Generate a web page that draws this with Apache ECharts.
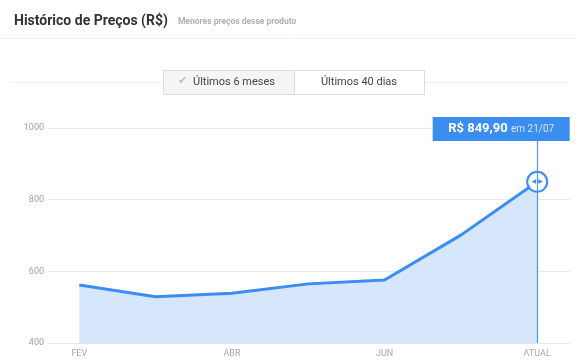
<!DOCTYPE html>
<html lang="pt-BR">

<head>
  <meta charset="utf-8" />
  <title></title>
  <script src="https://cdn.jsdelivr.net/npm/echarts@6/dist/echarts.min.js"></script>
  <style>
    * {
      margin: 0;
      padding: 0;
    }

    #chart-container {
      position: relative;
      width: 577px;
      height: 363px;
      overflow: hidden;
      background: #fff;
    }
  </style>
</head>

<body>
  <div id="chart-container"></div>

  <script>
    // meses (so FEV, ABR, JUN e ATUAL aparecem no eixo)
    var months = ["FEV", "MAR", "ABR", "MAI", "JUN", "JUL", "ATUAL"];
    var prices = [562, 529, 539, 565, 576, 701, 849.9];
    var shownTicks = [0, 2, 4, 6];
    var lastLabel = "R$ 849,90";
    var lastDate = "21/07";
  </script>

  <script>
    var dom = document.getElementById("chart-container");
    var myChart = echarts.init(dom, null, { renderer: "canvas" });

    var last = prices.length - 1;
    var seriesData = prices.map(function (v, i) {
      if (i === last) {
        return {
          value: [i, v],
          symbol: "circle",
          symbolSize: 20,
          itemStyle: { color: "#fff", borderColor: "#3b8cf5", borderWidth: 2 },
          label: {
            show: true,
            position: "inside",
            formatter: "◀ ▶",
            color: "#3b8cf5",
            fontSize: 6,
            fontFamily: "DejaVu Sans"
          }
        };
      }
      return { value: [i, v], symbol: "none" };
    });

    var option = {
      animation: false,
      title: {
        left: 9,
        top: 7,
        text: "{a|Histórico de Preços (R$)}  {b|Menores preços desse produto}",
        textStyle: {
          rich: {
            a: { fontFamily: "Roboto", fontWeight: "bold", fontSize: 14, color: "#333" },
            b: { fontFamily: "Roboto", fontSize: 8.5, color: "#b0b0b0", verticalAlign: "middle", padding: [2, 0, 0, 0] }
          }
        }
      },
      graphic: [
        { type: "line", shape: { x1: 0, y1: 38.5, x2: 577, y2: 38.5 }, style: { stroke: "#f0f0f0", lineWidth: 1 } },
        { type: "line", shape: { x1: 10, y1: 82.5, x2: 567, y2: 82.5 }, style: { stroke: "#f0f0f0", lineWidth: 1 } },
        { type: "rect", shape: { x: 163.5, y: 70.5, width: 131, height: 24 }, style: { fill: "#f5f5f5", stroke: "#dcdcdc" } },
        { type: "rect", shape: { x: 294.5, y: 70.5, width: 130, height: 24 }, style: { fill: "#fff", stroke: "#dcdcdc" } },
        { type: "text", x: 178, y: 76, style: { text: "✔", fill: "#bdbdbd", font: "11px DejaVu Sans" } },
        { type: "text", x: 193, y: 77, style: { text: "Últimos 6 meses", fill: "#444", font: "11px Roboto" } },
        { type: "text", x: 359, y: 77, style: { text: "Últimos 40 dias", fill: "#444", font: "11px Roboto", align: "center" } }
      ],
      grid: { left: 48, right: 7, top: 128, bottom: 20 },
      xAxis: {
        type: "value",
        min: -0.41,
        max: 6.43,
        axisLine: { show: false },
        axisTick: { show: false },
        splitLine: { show: false },
        axisLabel: {
          customValues: shownTicks,
          formatter: function (v) { return months[v] || ""; },
          color: "#a8a8a8",
          fontSize: 9,
          fontFamily: "Roboto",
          margin: 6
        }
      },
      yAxis: {
        type: "value",
        min: 400,
        max: 1000,
        interval: 200,
        axisLine: { show: false },
        axisTick: { show: false },
        axisLabel: {
          formatter: function (v) { return String(v); },
          color: "#a0a0a0", fontSize: 9, fontFamily: "Roboto", margin: 4
        },
        splitLine: { lineStyle: { color: "#e8e8e8" } }
      },
      series: [
        {
          type: "line",
          data: seriesData,
          lineStyle: { color: "#3b8cf5", width: 3 },
          areaStyle: { color: "#d6e6fb", opacity: 1 },
          itemStyle: { color: "#3b8cf5" },
          z: 3,
          markLine: {
            silent: true,
            symbol: "none",
            label: { show: false },
            emphasis: { disabled: true },
            lineStyle: { color: "#4f98f2", width: 1.2, type: "solid", opacity: 1 },
            data: [[
              { coord: [last, 400], lineStyle: { color: "#4f98f2" } },
              { coord: [last, 990] }
            ]]
          },
          markPoint: {
            silent: true,
            symbol: "rect",
            symbolSize: [137, 24],
            symbolOffset: [-36, 0],
            itemStyle: { color: "#3a8ef0" },
            label: {
              show: true,
              position: "inside",
              formatter: "{p|" + lastLabel + "} {d|em " + lastDate + "}",
              rich: {
                p: { color: "#fff", fontWeight: "bold", fontSize: 13, fontFamily: "Roboto" },
                d: { color: "#d6e7ff", fontSize: 10, fontFamily: "Roboto" }
              }
            },
            data: [{ coord: [last, 997] }]
          }
        }
      ]
    };

    myChart.setOption(option);
    window.addEventListener("resize", myChart.resize);
  </script>
</body>

</html>
